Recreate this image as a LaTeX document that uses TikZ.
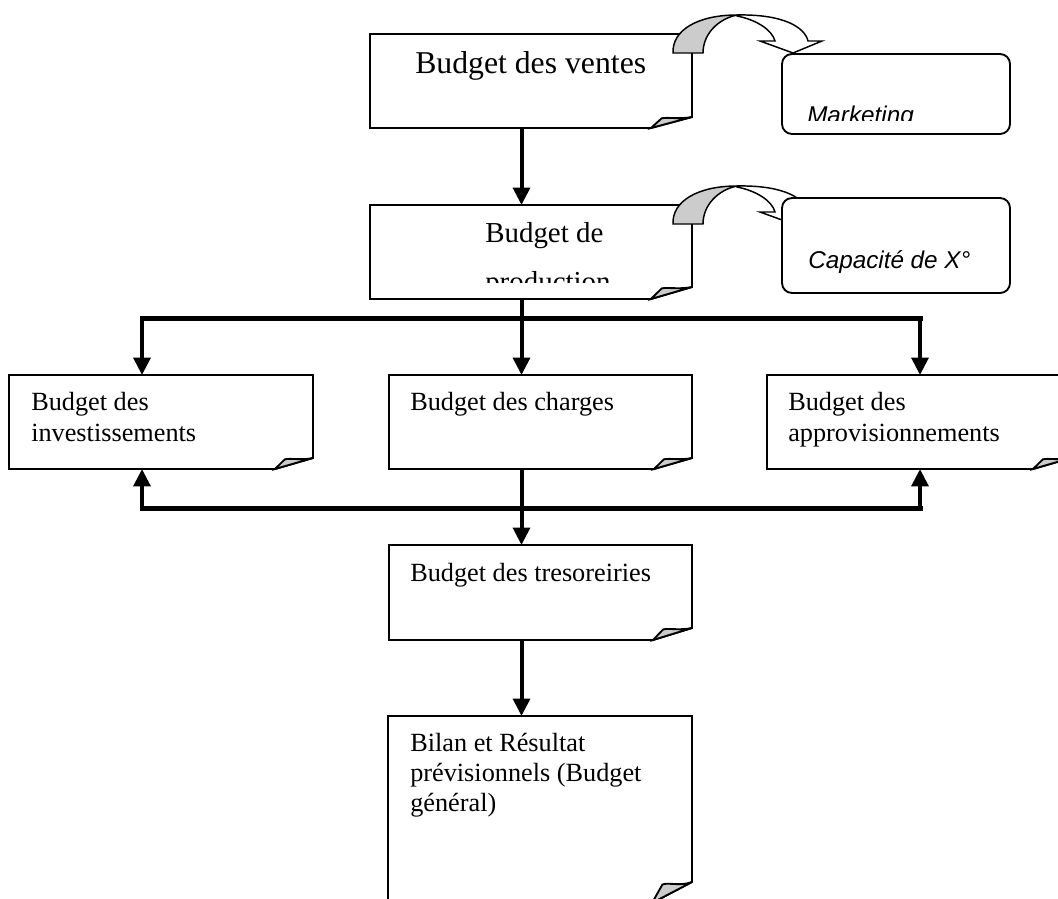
\documentclass[tikz,border=0pt]{standalone}
\usepackage{fontspec}
\setmainfont{Liberation Serif}
\newfontfamily\arialfont{Liberation Sans}
\usetikzlibrary{arrows.meta,calc,fit}
\definecolor{foldgray}{RGB}{204,204,204}
% folded-corner box drawn around a named area node: name, fold dx, fold dy (px)
\newcommand{\foldbox}[3]{%
  \draw[boxline,fill=white] (#1.north west) -- (#1.north east) -- ($(#1.south east)+(0,-#3)$) -- ($(#1.south east)+(-#2,0)$) -- (#1.south west) -- cycle;
  \draw[boxline,fill=foldgray] ($(#1.south east)+(0,-#3)$) .. controls ($(#1.south east)+(-0.3*#2,-0.78*#3)$) and ($(#1.south east)+(-0.6*#2,-1.0*#3)$) .. ($(#1.south east)+(-0.74*#2,-0.88*#3)$) -- ($(#1.south east)+(-#2,0)$) -- cycle;
}
% curved block arrow (shifted down by #1 px)
\newcommand{\curlarrow}[1]{%
  \begin{scope}[shift={(0,#1)}]
    \draw[arrline,fill=foldgray] (673,53) .. controls (672,30) and (698,15) .. (737,15) .. controls (718,19) and (703,34) .. (703,53) -- cycle;
    \draw[arrline,fill=white] (737,15) .. controls (785,14) and (805,28) .. (808,41) -- (822,41) -- (793,53) -- (760,41) -- (775,41) .. controls (772,30) and (757,20) .. (737,16) -- cycle;
  \end{scope}}
\begin{document}
\begin{tikzpicture}[x=0.75pt,y=-0.75pt,
  area/.style={rectangle,inner sep=0pt,outer sep=0pt},
  boxline/.style={line width=1.4pt,line join=miter},
  arrline/.style={line width=1.1pt},
  rbox/.style={area,draw,fill=white,line width=1.4pt,rounded corners=7.5pt},
  flow/.style={line width=3pt,-{Triangle[width=12.5pt,length=13pt]}},
  bus/.style={line width=3.75pt,line cap=rect},
  body/.style={anchor=base west,inner sep=0pt,align=left,font=\fontsize{19.7pt}{23.25pt}\selectfont},
  note/.style={anchor=base west,inner sep=0pt,font=\arialfont\itshape\fontsize{18.2pt}{22pt}\selectfont}]
\useasboundingbox (0,0) rectangle (1058,899);
\clip (0,0) rectangle (1058,899);

% area nodes
\node[area,fit={(370,34) (692,128)}] (ventes) {};
\node[area,fit={(370,205) (692,299)}] (production) {};
\node[area,fit={(9,375) (313,469)}] (inv) {};
\node[area,fit={(389,375) (692,469)}] (charges) {};
\node[area,fit={(767,375) (1071,469)}] (appro) {};
\node[area,fit={(389,545) (692,640)}] (treso) {};
\node[area,fit={(388,716) (692,903)}] (bilan) {};

\coordinate (spine) at (521.5,0);
\coordinate (L) at (142,318);
\coordinate (R) at (920,318);
\coordinate (L2) at (142,508);
\coordinate (R2) at (920,508);

% boxes
\foldbox{ventes}{41}{11}
\foldbox{production}{41}{12}
\foldbox{inv}{38}{11}
\foldbox{charges}{38}{11}
\foldbox{appro}{38}{11}
\foldbox{treso}{39}{12}
\foldbox{bilan}{40}{21}

% curved arrows and side boxes
\curlarrow{0}
\node[rbox,fit={(782,54) (1010,134)}] (marketing) {};
\begin{scope}
  \clip (782,54) rectangle (1010,121);
  \node[note] (marketing-t) at (807,123) {Marketing};
\end{scope}
\curlarrow{171}
\node[rbox,fit={(782,198) (1010,293)}] (capacite) {};
\node[note] (capacite-t) at (808,268) {Capacité de X°};

% texts (multi-line nodes: base = last line)
\node[anchor=base west,inner sep=0pt,font=\fontsize{23.8pt}{28pt}\selectfont] (ventes-t) at (415,74) {Budget des ventes};
\node[anchor=base west,inner sep=0pt,font=\fontsize{21.7pt}{26pt}\selectfont] (production-t1) at (485,242) {Budget de};
\begin{scope}
  \clip (370,205) rectangle (692,282);
  \node[anchor=base west,inner sep=0pt,font=\fontsize{21.7pt}{26pt}\selectfont] (production-t2) at (485,291) {production};
\end{scope}
\node[body] (inv-t) at (31,441) {Budget des\\investissements};
\node[body] (charges-t) at (410,410) {Budget des charges};
\node[body] (appro-t) at (788,441) {Budget des\\approvisionnements};
\node[body] (treso-t) at (410,581) {Budget des tresoreiries};
\node[body,font=\fontsize{19.7pt}{22.2pt}\selectfont] (bilan-t) at (410,811) {Bilan et Résultat\\prévisionnels (Budget\\général)};

% connectors
\draw[flow] (ventes.south -| spine) -- (production.north -| spine);
\draw[flow] (production.south -| spine) -- (charges.north -| spine);
\draw[bus] (L) -- (R);
\draw[flow] (L) -- (inv.north -| L);
\draw[flow] (R) -- (appro.north -| R);
\draw[bus] (L2) -- (R2);
\draw[flow] (L2) -- (inv.south -| L2);
\draw[flow] (R2) -- (appro.south -| R2);
\draw[flow] (charges.south -| spine) -- (treso.north -| spine);
\draw[flow] (treso.south -| spine) -- (bilan.north -| spine);
\end{tikzpicture}
\end{document}
